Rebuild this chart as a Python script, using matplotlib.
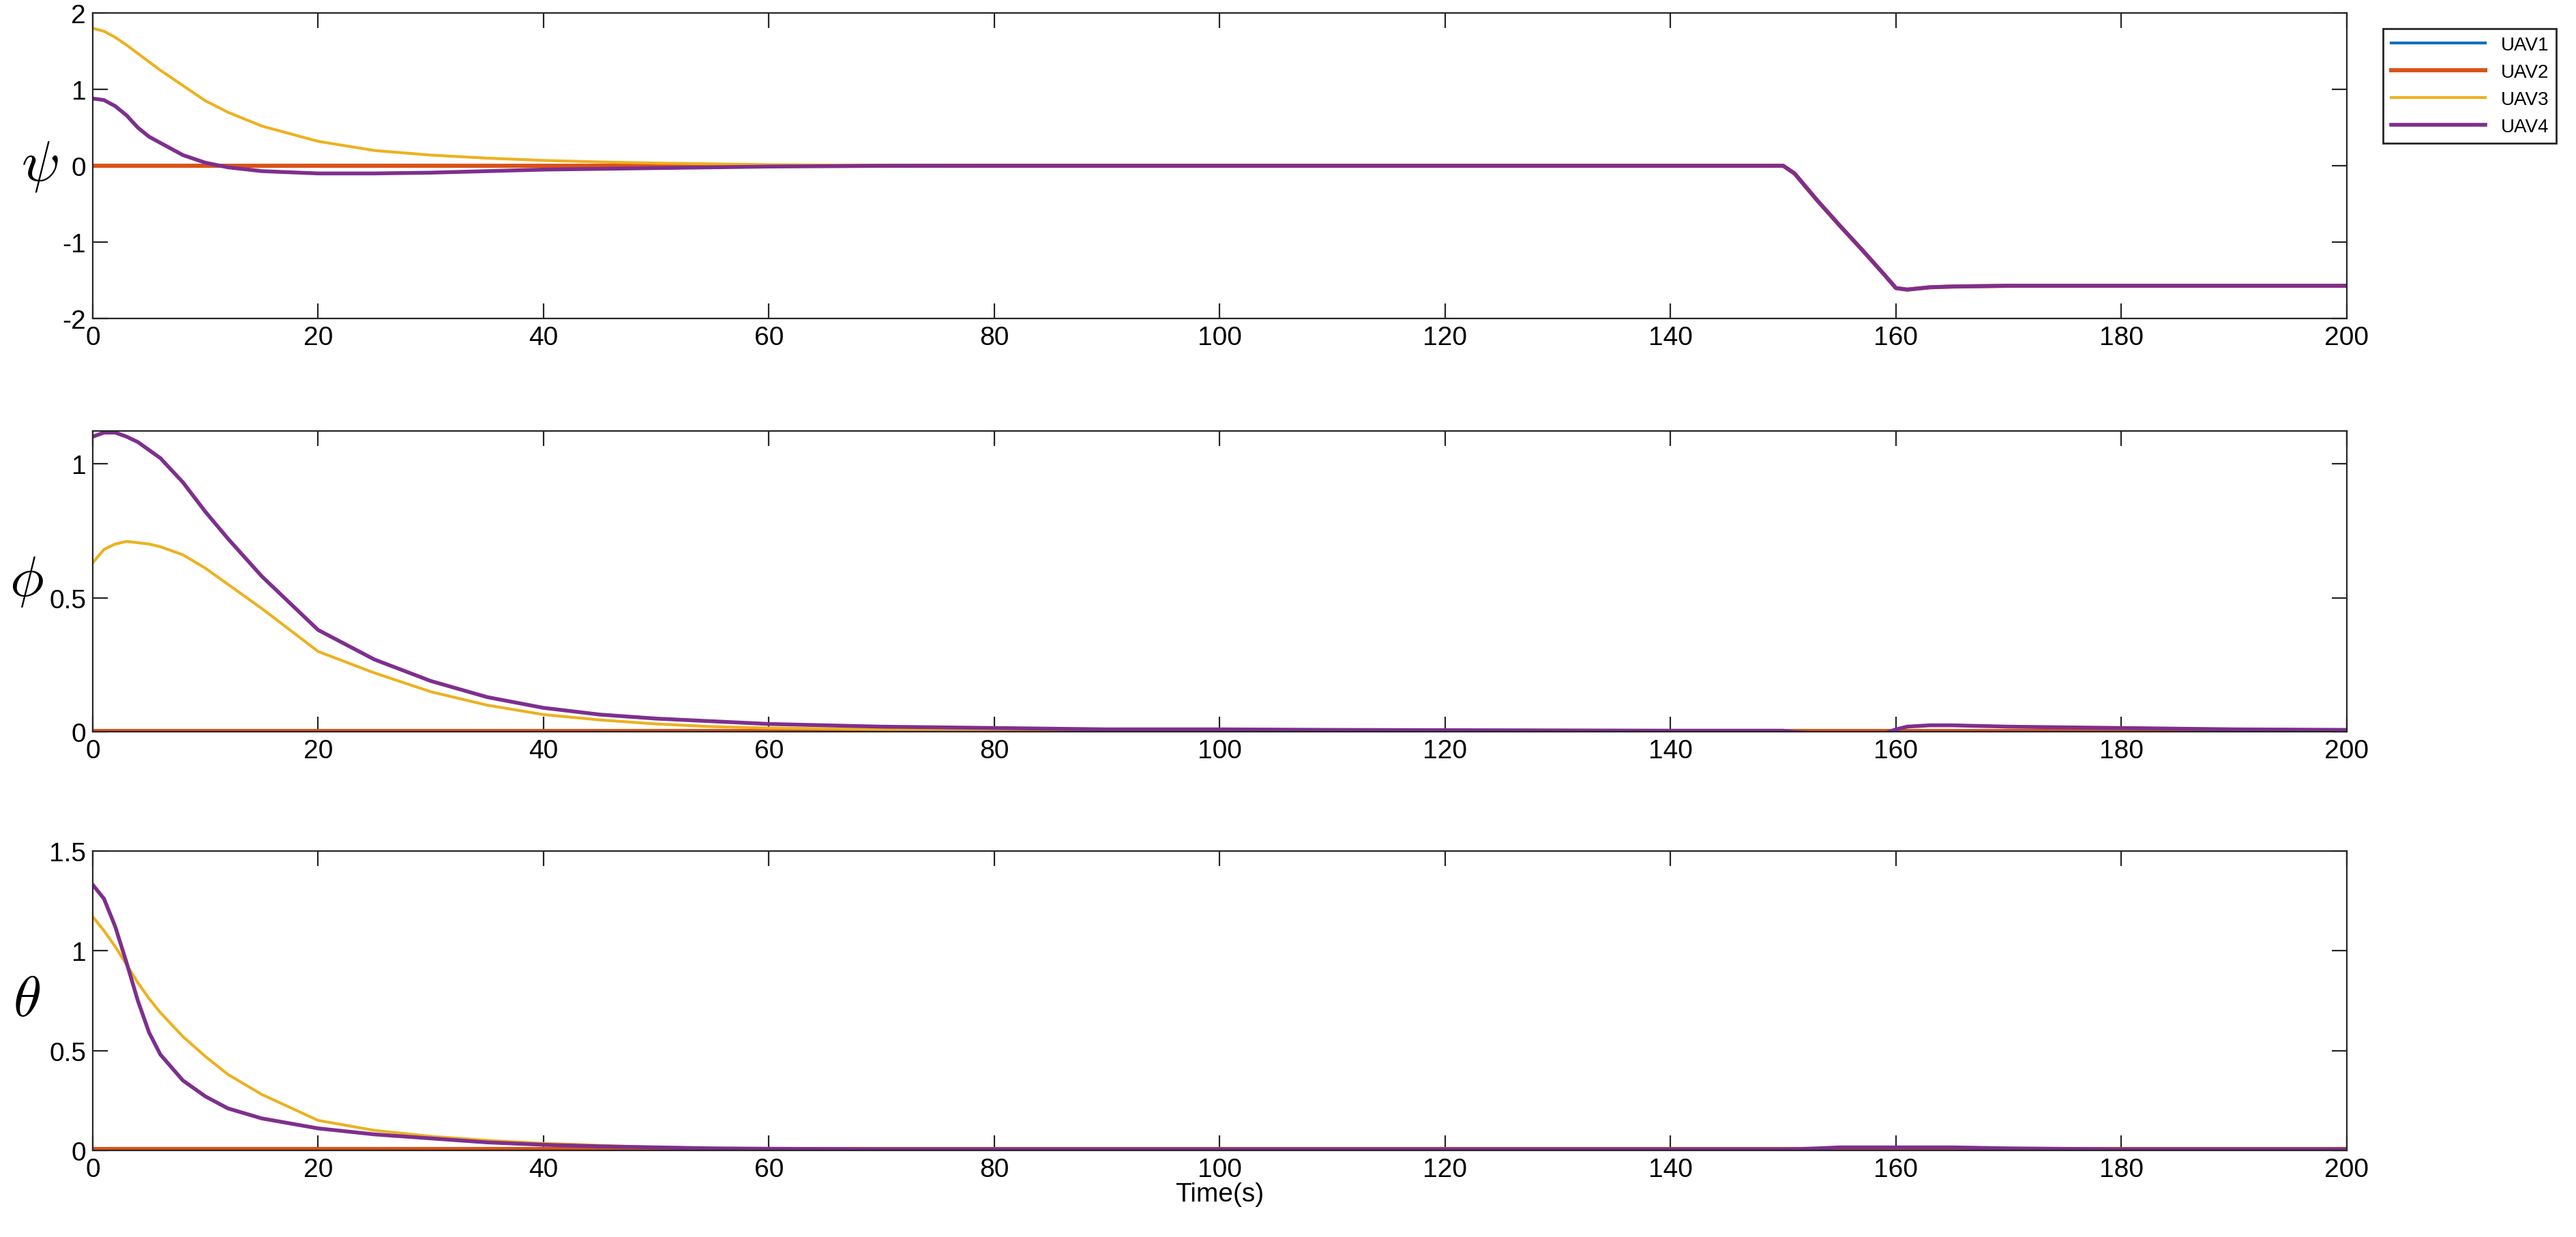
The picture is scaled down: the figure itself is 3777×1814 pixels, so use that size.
import matplotlib.pyplot as plt

t = [0, 1, 2, 3, 4, 5, 6, 8, 10, 12, 15, 20, 25, 30, 35, 40, 45, 50, 55, 60, 70, 80, 90, 100,
     110, 120, 130, 140, 150, 151, 153, 155, 157, 159, 160, 161, 163, 165, 170, 180, 190, 200]

psi_flat = [0.0] * 28 + [0.0, -0.1, -0.45, -0.78, -1.1, -1.43, -1.6, -1.62, -1.59, -1.58, -1.57, -1.57, -1.57, -1.57]
psi_uav3 = [1.8, 1.76, 1.68, 1.58, 1.47, 1.36, 1.25, 1.05, 0.85, 0.7, 0.52, 0.32, 0.2, 0.14, 0.1, 0.07,
            0.05, 0.035, 0.025, 0.015, 0.005, 0.0, 0.0, 0.0, 0.0, 0.0, 0.0, 0.0] + psi_flat[28:]
psi_uav4 = [0.88, 0.86, 0.78, 0.66, 0.5, 0.38, 0.3, 0.14, 0.04, -0.02, -0.07, -0.1, -0.1, -0.09, -0.07, -0.05,
            -0.04, -0.03, -0.02, -0.01, 0.0, 0.0, 0.0, 0.0, 0.0, 0.0, 0.0, 0.0] + psi_flat[28:]

phi_flat = [0.005] * 42
phi_tail = [0.005, 0.0, -0.005, -0.01, -0.01, -0.005, 0.01, 0.02, 0.025, 0.025, 0.02, 0.015, 0.01, 0.008]
phi_uav3 = [0.63, 0.68, 0.7, 0.71, 0.705, 0.7, 0.69, 0.66, 0.61, 0.55, 0.46, 0.3, 0.22, 0.15, 0.1, 0.065,
            0.045, 0.03, 0.02, 0.015, 0.01, 0.01, 0.01, 0.008, 0.007, 0.006, 0.005, 0.005] + phi_tail
phi_uav4 = [1.1, 1.115, 1.115, 1.1, 1.08, 1.05, 1.02, 0.93, 0.82, 0.72, 0.58, 0.38, 0.27, 0.19, 0.13, 0.09,
            0.065, 0.05, 0.04, 0.03, 0.02, 0.015, 0.01, 0.01, 0.008, 0.007, 0.006, 0.005] + phi_tail

theta_flat = [0.005] * 42
theta_tail = [0.005, 0.006, 0.01, 0.015, 0.015, 0.015, 0.015, 0.015, 0.015, 0.015, 0.01, 0.005, 0.005, 0.005]
theta_uav3 = [1.17, 1.1, 1.02, 0.93, 0.84, 0.76, 0.69, 0.57, 0.47, 0.38, 0.28, 0.15, 0.1, 0.07, 0.05, 0.035,
              0.025, 0.015, 0.01, 0.008, 0.005, 0.005, 0.005, 0.005, 0.005, 0.005, 0.005, 0.005] + theta_tail
theta_uav4 = [1.33, 1.26, 1.12, 0.94, 0.75, 0.59, 0.48, 0.35, 0.27, 0.21, 0.16, 0.11, 0.08, 0.06, 0.04, 0.028,
              0.02, 0.015, 0.01, 0.008, 0.005, 0.005, 0.005, 0.005, 0.005, 0.005, 0.005, 0.005] + theta_tail

labels = ["UAV1", "UAV2", "UAV3", "UAV4"]
colors = ["#0072BD", "#D95319", "#EDB120", "#7E2F8E"]
widths = [1.5, 2.2, 1.5, 2.0]

panels = [
    (r"$\psi$", [psi_flat, psi_flat, psi_uav3, psi_uav4], (-2, 2), [-2, -1, 0, 1, 2], ["-2", "-1", "0", "1", "2"]),
    (r"$\phi$", [phi_flat, phi_flat, phi_uav3, phi_uav4], (0, 1.12), [0, 0.5, 1], ["0", "0.5", "1"]),
    (r"$\theta$", [theta_flat, theta_flat, theta_uav3, theta_uav4], (0, 1.5), [0, 0.5, 1, 1.5], ["0", "0.5", "1", "1.5"]),
]

plt.rcParams['font.family'] = ['Liberation Sans', 'DejaVu Sans']
plt.rcParams['mathtext.fontset'] = 'cm'

fig = plt.figure(figsize=(18.885, 9.075), dpi=200)
boxes = [(0.036, 0.742, 0.875, 0.247), (0.036, 0.408, 0.875, 0.243), (0.036, 0.070, 0.875, 0.242)]

for box, (name, series, ylim, yt, ytl) in zip(boxes, panels):
    ax = fig.add_axes(box)
    for y, lab, c, w in zip(series, labels, colors, widths):
        ax.plot(t, y, color=c, lw=w, label=lab)
    ax.set_xlim(0, 200)
    ax.set_ylim(*ylim)
    ax.set_xticks(range(0, 201, 20))
    ax.set_yticks(yt)
    ax.set_yticklabels(ytl)
    ax.tick_params(direction='in', top=True, right=True, labelsize=14, length=8, color='#262626')
    for s in ax.spines.values():
        s.set_color('#262626')
    ax.set_ylabel(name, rotation=0, fontsize=30, labelpad=12, va='center')
    if name == r"$\psi$":
        ax.legend(loc='upper left', bbox_to_anchor=(1.012, 0.98), fontsize=10, fancybox=False,
                  edgecolor='#262626', framealpha=1, handlelength=5)
    if name == r"$\theta$":
        ax.set_xlabel("Time(s)", fontsize=14, labelpad=0)

fig.savefig("out.png", dpi=200)
